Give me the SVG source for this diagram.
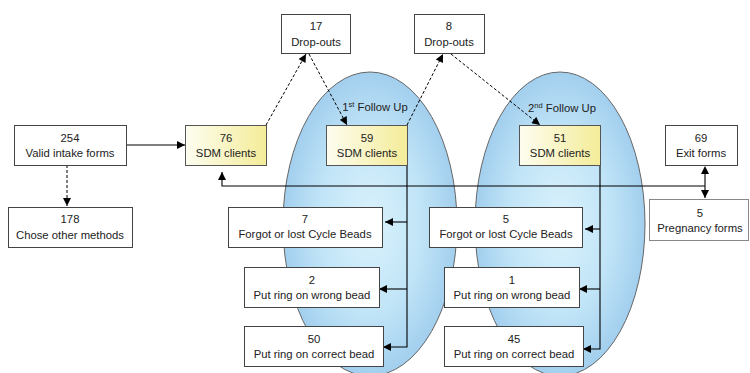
<svg xmlns="http://www.w3.org/2000/svg" width="750" height="373" viewBox="0 0 750 373">
<defs>
<radialGradient id="blue" cx="0.5" cy="0.5" r="0.5">
<stop offset="0" stop-color="#dbf2fc"/>
<stop offset="0.6" stop-color="#c0e4f7"/>
<stop offset="1" stop-color="#a2cfee"/>
</radialGradient>
<linearGradient id="yel" x1="0" y1="0" x2="1" y2="0">
<stop offset="0" stop-color="#fdfdf0"/>
<stop offset="1" stop-color="#f4ec98"/>
</linearGradient>
<marker id="ah" viewBox="0 0 10 10" refX="10" refY="5" markerWidth="9" markerHeight="8" markerUnits="userSpaceOnUse" orient="auto">
<path d="M0,0 L10,5 L0,10 z" fill="#000"/>
</marker>
<marker id="ahs" viewBox="0 0 10 10" refX="0" refY="5" markerWidth="9" markerHeight="8" markerUnits="userSpaceOnUse" orient="auto-start-reverse">
<path d="M0,0 L10,5 L0,10 z" fill="#000"/>
</marker>
</defs>
<style>
.box{fill:#fff;stroke:#444;stroke-width:1}
.sdm{fill:url(#yel);stroke:#555;stroke-width:1}
.ell{fill:url(#blue);stroke:#666;stroke-width:1}
text{font-family:"Liberation Sans",Arial,sans-serif;font-size:11.3px;fill:#222;text-anchor:middle}
.c{fill:none;stroke:#000;stroke-width:1.1}
.d{fill:none;stroke:#000;stroke-width:1;stroke-dasharray:3,2}
</style>
<rect width="750" height="373" fill="#fff"/>
<g id="followup1">
<ellipse class="ell" cx="370" cy="224" rx="87" ry="152"/>
<text x="375" y="111">1<tspan font-size="7.5" dy="-4">st</tspan><tspan dy="4"> Follow Up</tspan></text>
</g>
<g id="followup2">
<ellipse class="ell" cx="560" cy="224" rx="85" ry="152"/>
<text x="562" y="112">2<tspan font-size="7.5" dy="-4">nd</tspan><tspan dy="4"> Follow Up</tspan></text>
</g>
<g id="connectors">
<line class="c" x1="126" y1="145" x2="185" y2="145" marker-end="url(#ah)"/>
<line class="d" x1="67" y1="165" x2="67" y2="206" marker-end="url(#ah)"/>
<line class="d" x1="266" y1="125" x2="306" y2="54" marker-end="url(#ah)"/>
<line class="d" x1="309" y1="54" x2="347" y2="125" marker-end="url(#ah)"/>
<line class="d" x1="407" y1="125" x2="443" y2="54" marker-end="url(#ah)"/>
<line class="d" x1="451" y1="54" x2="540" y2="125" marker-end="url(#ah)"/>
<polyline class="c" points="407,165 407,347 383,347" marker-end="url(#ah)"/>
<line class="c" x1="407" y1="222" x2="385" y2="222" marker-end="url(#ah)"/>
<line class="c" x1="407" y1="289" x2="379" y2="289" marker-end="url(#ah)"/>
<polyline class="c" points="600,165 600,349 583,349" marker-end="url(#ah)"/>
<line class="c" x1="600" y1="229" x2="585" y2="229" marker-end="url(#ah)"/>
<line class="c" x1="600" y1="289" x2="579" y2="289" marker-end="url(#ah)"/>
<polyline class="c" points="705,186 222,186 222,172" marker-end="url(#ah)"/>
<line class="c" x1="705" y1="174" x2="705" y2="198" marker-start="url(#ahs)" marker-end="url(#ah)"/>
</g>
<g id="intake">
<rect class="box" x="14.5" y="125.5" width="112" height="40"/>
<text x="70" y="142">254</text><text x="70" y="157">Valid intake forms</text>
</g>
<g id="other">
<rect class="box" x="8.5" y="207.5" width="124" height="40"/>
<text x="70" y="223">178</text><text x="70" y="239">Chose other methods</text>
</g>
<g id="sdm76">
<rect class="sdm" x="185.5" y="125.5" width="81" height="40"/>
<text x="226" y="142">76</text><text x="226" y="157">SDM clients</text>
</g>
<g id="drop17">
<rect class="box" x="281.5" y="14.5" width="69" height="39"/>
<text x="316" y="30">17</text><text x="316" y="46">Drop-outs</text>
</g>
<g id="drop8">
<rect class="box" x="414.5" y="14.5" width="70" height="39"/>
<text x="449" y="30">8</text><text x="449" y="46">Drop-outs</text>
</g>
<g id="sdm59">
<rect class="sdm" x="326.5" y="125.5" width="81" height="40"/>
<text x="367" y="142">59</text><text x="367" y="157">SDM clients</text>
</g>
<g id="sdm51">
<rect class="sdm" x="519.5" y="125.5" width="81" height="40"/>
<text x="560" y="142">51</text><text x="560" y="157">SDM clients</text>
</g>
<g id="exit">
<rect class="box" x="665.5" y="125.5" width="72" height="40"/>
<text x="701" y="142">69</text><text x="701" y="157">Exit forms</text>
</g>
<g id="pregnancy">
<rect class="box" x="649.5" y="199.5" width="99" height="41" style="stroke:#888"/>
<text x="700" y="217">5</text><text x="700" y="232">Pregnancy forms</text>
</g>
<g id="forgot1">
<rect class="box" x="228.5" y="207.5" width="154" height="40"/>
<text x="305" y="223">7</text><text x="305" y="238">Forgot or lost Cycle Beads</text>
</g>
<g id="wrong1">
<rect class="box" x="244.5" y="267.5" width="135" height="40"/>
<text x="312" y="284">2</text><text x="312" y="299">Put ring on wrong bead</text>
</g>
<g id="correct1">
<rect class="box" x="244.5" y="326.5" width="139" height="40"/>
<text x="314" y="343">50</text><text x="314" y="358">Put ring on correct bead</text>
</g>
<g id="forgot2">
<rect class="box" x="429.5" y="207.5" width="153" height="40"/>
<text x="506" y="223">5</text><text x="506" y="238">Forgot or lost Cycle Beads</text>
</g>
<g id="wrong2">
<rect class="box" x="444.5" y="267.5" width="135" height="40"/>
<text x="512" y="284">1</text><text x="512" y="299">Put ring on wrong bead</text>
</g>
<g id="correct2">
<rect class="box" x="444.5" y="326.5" width="139" height="40"/>
<text x="514" y="343">45</text><text x="514" y="358">Put ring on correct bead</text>
</g>
</svg>
